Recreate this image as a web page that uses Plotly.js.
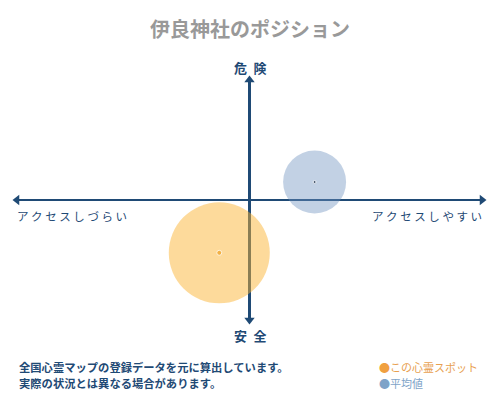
<!DOCTYPE html>
<html>
<head>
<meta charset="utf-8">
<script src="https://cdn.plot.ly/plotly-3.0.1.min.js"></script>
<style>
  html, body { margin: 0; padding: 0; background: #fff; }
  #chart { width: 500px; height: 400px; }
</style>
</head>
<body>
<div id="chart"></div>
<script>
// positions on the access (x) / danger (y) plane, -1..1
const spotNames = ['この心霊スポット', '平均値'];
const spotX = [-0.13, 0.28];
const spotY = [-0.44, 0.15];
const spotSize = [101, 63];

const axisLabels = ['危\u2002険', '安\u2002全', 'ア ク セ ス し づ ら い', 'ア ク セ ス し や す い'];
const noteLines = ['全国心霊マップの登録データを元に算出しています。', '実際の状況とは異なる場合があります。'];
const titleText = '伊良神社のポジション';

main();

function main() {
    const font = '"Noto Sans CJK JP", sans-serif';
    const navy = '#1f4a75';
    const fills = ['rgba(250,180,50,0.7)', 'rgba(110,145,190,0.6)'];
    const dots = ['#f0a020', '#1a2a40'];

    let traces = [];
    // big circles
    traces.push({
        x: spotX,
        y: spotY,
        type: 'scatter',
        mode: 'markers',
        marker: {size: spotSize, color: fills, line: {width: 0}},
        hoverinfo: 'skip',
        cliponaxis: false
    });
    // centre dots
    traces.push({
        x: spotX,
        y: spotY,
        type: 'scatter',
        mode: 'markers',
        marker: {size: [5, 3], color: dots},
        hoverinfo: 'skip',
        cliponaxis: false
    });
    // arrow heads on axis ends
    traces.push({
        x: [-1, 1, 0, 0],
        y: [0, 0, 1, -1],
        type: 'scatter',
        mode: 'markers',
        marker: {
            size: 9,
            color: navy,
            symbol: ['triangle-left', 'triangle-right', 'triangle-up', 'triangle-down']
        },
        hoverinfo: 'skip',
        cliponaxis: false
    });

    const px = v => (v - 17) / 465;
    const py = v => (320 - v) / 240;

    let annotations = [
        {text: axisLabels[0], x: px(250), y: py(67), font: {size: 13, color: navy, weight: 'bold'}},
        {text: axisLabels[1], x: px(250), y: py(335), font: {size: 13, color: navy, weight: 'bold'}},
        {text: axisLabels[2], x: px(15), y: py(216), xanchor: 'left', font: {size: 11.5, color: navy}},
        {text: axisLabels[3], x: px(484), y: py(216), xanchor: 'right', font: {size: 11.5, color: navy}},
        {text: noteLines[0], x: px(17), y: py(367), xanchor: 'left', font: {size: 11.3, color: navy, weight: 'bold'}},
        {text: noteLines[1], x: px(17), y: py(383), xanchor: 'left', font: {size: 11.3, color: navy, weight: 'bold'}},
        {text: '<span style="color:#f0a040">●</span>' + spotNames[0], x: px(377), y: py(367), xanchor: 'left', font: {size: 11, color: '#e8a050'}},
        {text: '<span style="color:#7ea3c8">●</span>' + spotNames[1], x: px(377), y: py(383), xanchor: 'left', font: {size: 11, color: '#7ea3c8'}}
    ].map(a => Object.assign({xref: 'paper', yref: 'paper', showarrow: false, yanchor: 'middle'}, a));
    annotations.forEach(a => { if (!a.xanchor) a.xanchor = 'center'; });

    const layout = {
        width: 500,
        height: 400,
        margin: {l: 17, r: 18, t: 80, b: 80},
        paper_bgcolor: '#fff',
        plot_bgcolor: '#fff',
        font: {family: font},
        showlegend: false,
        title: {
            text: titleText,
            x: 0.5,
            y: 1 - 30 / 400,
            xanchor: 'center',
            yanchor: 'middle',
            font: {size: 20, color: '#999', family: font, weight: 'bold'}
        },
        xaxis: {
            range: [-1, 1],
            showgrid: false,
            showticklabels: false,
            ticks: '',
            zeroline: true,
            zerolinecolor: navy,
            zerolinewidth: 2.5,
            fixedrange: true
        },
        yaxis: {
            range: [-1, 1],
            showgrid: false,
            showticklabels: false,
            ticks: '',
            zeroline: true,
            zerolinecolor: navy,
            zerolinewidth: 2.5,
            fixedrange: true
        },
        annotations: annotations
    };

    Plotly.newPlot('chart', traces, layout, {displayModeBar: false, staticPlot: true});
}
</script>
</body>
</html>
